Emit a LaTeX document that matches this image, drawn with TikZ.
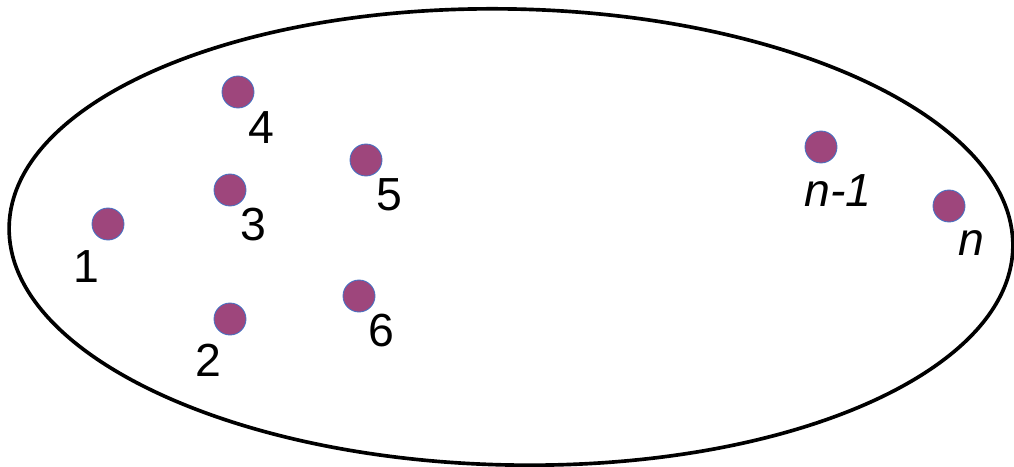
\documentclass[tikz,border=0pt]{standalone}
\usepackage{fontspec}
\setmainfont{Liberation Sans}
\definecolor{dotfill}{RGB}{158,70,124}
\definecolor{dotline}{RGB}{68,114,196}
\begin{document}
\begin{tikzpicture}[x=0.025cm,y=-0.025cm]
        % Styles
        \tikzstyle{dot}=[circle,fill=dotfill,draw=dotline,line width=0.6pt,minimum size=32*0.025cm,inner sep=0pt]
        \tikzstyle{number}=[anchor=base,inner sep=0pt,font=\fontsize{33}{40}\selectfont]
        \useasboundingbox (0,0) rectangle (1014,467);
        %the set
        \draw[line width=2.6pt,rotate around={-1.2:(511,237)}] (511,237) ellipse (502 and 228);
        %points
        \foreach \name/\x/\y/\lx/\ly/\txt in {1/108/224/86/282/1, 2/230/319/208/376/2, 3/230/190/253/240/3,
            4/238/92/261/143/4, 5/366/160/389/210/5, 6/359/296/381/346/6,
            m/821/147/838/206/\textit{n-1}, n/949/206/971/255/\textit{n}}
        {
            \node[dot] (p\name) at (\x,\y) {};
            \node[number] (t\name) at (\lx,\ly) {\txt};
        }
\end{tikzpicture}
\end{document}
